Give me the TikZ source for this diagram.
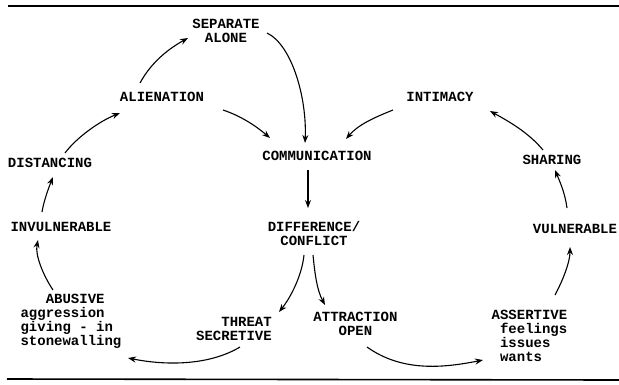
\documentclass[tikz,border=0pt]{standalone}
\usepackage{fontspec}
\newfontfamily\tw{Liberation Mono}
\usetikzlibrary{arrows.meta}
\begin{document}
\begin{tikzpicture}[x=1pt,y=-1pt,
  lbl/.style={font=\tw\bfseries\fontsize{14}{14}\selectfont, inner sep=0pt, anchor=center},
  arr/.style={line width=1.1pt, -{Stealth[length=8pt,width=6pt]}},
  rulel/.style={line width=1.6pt}]
\useasboundingbox (0,0) rectangle (619,384);
\draw[rulel] (8,6) -- (619,6);
\draw[rulel] (7,379) -- (619,380);
\node[lbl, align=center] (sep) at (226,31) {SEPARATE\\ALONE};
\node[lbl] (alien) at (162,97) {ALIENATION};
\node[lbl] (dist) at (50,163) {DISTANCING};
\node[lbl] (comm) at (317,156) {COMMUNICATION};
\node[lbl] (intim) at (440,97) {INTIMACY};
\node[lbl] (sharing) at (552,160) {SHARING};
\node[lbl] (invul) at (61,227) {INVULNERABLE};
\node[lbl, align=center] (diff) at (314,233.5) {DIFFERENCE/\\CONFLICT};
\node[lbl] (vuln) at (575,229) {VULNERABLE};
\node[lbl, align=left] (abus) at (71,321) {\phantom{AAA}ABUSIVE\\aggression\\giving - in\\stonewalling};
\node[lbl, align=right] (threat) at (234,328.5) {THREAT\\SECRETIVE};
\node[lbl, align=center] (attr) at (355.5,324) {ATTRACTION\\OPEN};
\node[lbl, align=left] (assert) at (529.5,336) {ASSERTIVE\\\phantom{A}feelings\\\phantom{A}issues\\\phantom{A}wants};
\draw[arr] ([shift={(-22,-14)}]alien.center) .. controls +(12,-22) and +(-18,10) .. ([shift={(-38,7)}]sep.center);
\draw[arr] ([shift={(41,2)}]sep.center) .. controls +(25,12) and +(2,-45) .. ([shift={(-12,-13)}]comm.center);
\draw[arr] ([shift={(61,13)}]alien.center) .. controls +(18,6) and +(-14,-12) .. ([shift={(-47,-18)}]comm.center);
\draw[arr] ([shift={(15,-10)}]dist.center) .. controls +(12,-16) and +(-20,8) .. ([shift={(-42,16)}]alien.center);
\draw[arr] ([shift={(-19,-15)}]invul.center) .. controls +(2,-12) and +(-4,10) .. ([shift={(3,14)}]dist.center);
\draw[arr] ([shift={(-18,-31)}]abus.center) .. controls +(-10,-15) and +(-3,15) .. ([shift={(-23,13)}]invul.center);
\draw[arr] ([shift={(6,18.5)}]threat.center) .. controls +(-30,18) and +(40,8) .. ([shift={(57,37)}]abus.center);
\draw[arr] ([shift={(-10,21.5)}]diff.center) .. controls +(-2,20) and +(12,-15) .. ([shift={(45,-16.5)}]threat.center);
\draw[arr] ([shift={(-1,21.5)}]diff.center) .. controls +(2,20) and +(-8,-15) .. ([shift={(-30.5,-19)}]attr.center);
\draw[arr] ([shift={(-9,14)}]comm.center) -- ([shift={(-6,-25.5)}]diff.center);
\draw[arr] ([shift={(11.5,23)}]attr.center) .. controls +(35,25) and +(-40,8) .. ([shift={(-46.5,24)}]assert.center);
\draw[arr] ([shift={(25.5,-41)}]assert.center) .. controls +(8,-15) and +(0,15) .. ([shift={(-5,18)}]vuln.center);
\draw[arr] ([shift={(-8,-21)}]vuln.center) .. controls +(-2,-15) and +(5,12) .. ([shift={(3,10)}]sharing.center);
\draw[arr] ([shift={(-9,-10)}]sharing.center) .. controls +(-15,-18) and +(18,10) .. ([shift={(50,14)}]intim.center);
\draw[arr] ([shift={(-47,13)}]intim.center) .. controls +(-20,8) and +(12,-14) .. ([shift={(29,-17)}]comm.center);
\end{tikzpicture}
\end{document}
